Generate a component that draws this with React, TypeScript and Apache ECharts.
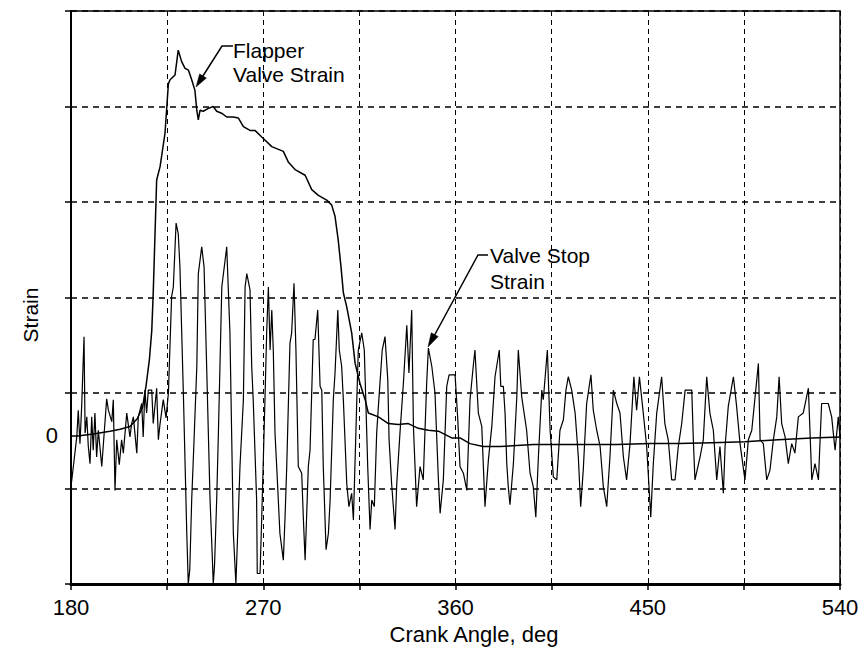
import React, { useEffect, useRef } from "react";
import * as echarts from "echarts";

// Crank angle (deg), strain (grid units; zero line at 0)
const flapperStrain: [number, number][] = [
  [180, 0.0], [183, 0.0], [190.4, 0.02], [198.3, 0.05], [203, 0.07], [207.6, 0.1],
  [211, 0.18], [213.5, 0.3], [215.1, 0.52], [216.7, 0.8], [217.8, 1.1], [218.5, 1.5],
  [220.1, 2.68], [221.7, 2.82], [224, 3.17], [225.6, 3.69], [226.4, 3.73], [228.7, 3.78],
  [230.2, 4.04], [231.8, 3.92], [233.4, 3.85], [235, 3.83], [236.5, 3.73], [238, 3.62],
  [238.9, 3.41], [239.6, 3.31], [240.4, 3.41], [241.9, 3.4], [244.3, 3.43], [246.6, 3.45],
  [248.2, 3.4], [250.5, 3.38], [252.9, 3.34], [256, 3.34], [258.3, 3.33], [260.7, 3.24],
  [263.8, 3.2], [266.1, 3.2], [269.3, 3.13], [274, 3.03], [279.4, 2.98], [281.7, 2.87],
  [284.9, 2.79], [289.6, 2.73], [292.7, 2.58], [295.8, 2.52], [299.7, 2.47], [302, 2.42],
  [303.6, 2.3], [305.1, 2.05], [306.4, 1.77], [307.5, 1.5], [309.1, 1.35], [311.4, 1.08],
  [313, 0.76], [315.3, 0.55], [317.7, 0.38], [319.2, 0.24], [323.9, 0.2], [328.6, 0.13],
  [333.2, 0.12], [337.9, 0.13], [342.6, 0.08], [347.3, 0.06], [352, 0.05], [358.2, -0.02],
  [362.1, -0.02], [366.8, -0.08], [373, -0.11], [380.9, -0.11], [388.7, -0.1], [396.5, -0.09],
  [404.3, -0.09], [419.9, -0.09], [435.6, -0.09], [451.2, -0.08], [464.3, -0.08], [479.9, -0.07],
  [495.5, -0.06], [511.1, -0.04], [526.8, -0.02], [540, -0.01],
];

const valveStopStrain: [number, number][] = [
  [180, -0.53], [181.1, -0.32], [182.7, -0.01], [183.4, 0.27], [184.2, -0.08], [185, 0.31],
  [186.1, 1.04], [186.6, 0.03], [187.4, 0.2], [188.1, -0.11], [188.9, -0.29], [189.7, 0.2],
  [190.4, -0.15], [191.2, 0.24], [192, -0.22], [192.8, 0.06], [194.4, -0.32], [195.4, -0.01],
  [196.7, 0.39], [197.5, 0.27], [199.1, 0.15], [199.8, 0.38], [200.6, -0.57], [201.4, -0.04],
  [202.6, -0.3], [203.7, -0.04], [204.5, -0.18], [206.1, 0.24], [207.6, -0.01], [208.4, 0.13],
  [209.2, 0.2], [210.8, -0.18], [211.5, 0.2], [213.1, 0.34], [213.8, -0.01], [214.6, 0.48],
  [215.4, 0.24], [216.2, 0.48], [217.8, 0.48], [218.5, 0.13], [220.1, 0.5], [220.9, -0.04],
  [221.7, 0.13], [223.2, 0.38], [224.5, 0.19], [225.6, 0.45], [227.1, 1.46], [227.9, 1.56],
  [229.2, 2.23], [230.2, 2.12], [231, 1.77], [232.6, 0.45], [234.2, -1.02], [234.9, -1.55],
  [235.6, -1.4], [236.5, -0.67], [237.3, -0.22], [238.9, 0.73], [239.6, 1.7], [241.2, 1.98],
  [242.3, 1.77], [243.5, 0.73], [245.1, -0.67], [246.2, -1.3], [246.6, -1.55], [247.2, -1.35],
  [248.2, -0.67], [249, 0.03], [250.6, 1.56], [252.9, 1.98], [254.4, 1.08], [255.2, 0.03],
  [256, -1.02], [257.2, -1.55], [258.3, -0.85], [259.1, -0.32], [260.7, 0.38], [261.5, 1.56],
  [262.3, 1.7], [263.8, 1.53], [264.6, 0.73], [265.3, 0.38], [266.9, -0.67], [267.2, -1.44],
  [268.5, -1.44], [269.3, -0.85], [270.8, 0.38], [271.6, 1.08], [272.4, 1.56], [273.2, 0.9],
  [274, 1.32], [274.7, 0.9], [275.5, 0.03], [276.3, -0.32], [277.8, -1.02], [279.4, -1.3],
  [280.2, -0.85], [281, -0.32], [282.5, 0.97], [283.3, 1.08], [284.4, 1.6], [285.3, 0.9],
  [286.4, -0.32], [288, -0.39], [288.8, -0.88], [289.6, -1.3], [291.1, -0.32], [291.9, -0.15],
  [293.4, 1.01], [294.2, 1.01], [295.5, 1.32], [296.6, 0.52], [297.4, 0.48], [298.1, -0.32],
  [299.4, -1.19], [300.5, -1.02], [301.3, -0.67], [302.8, 0.38], [303.6, 0.66], [304.9, 1.32],
  [305.6, 0.9], [306.7, 0.73], [307.5, 0.38], [309.1, -0.5], [310.1, -0.74], [311.4, -0.6],
  [312.2, -0.88], [313.8, 0.38], [314.5, 0.9], [316.1, 1.08], [317.3, 0.9], [318, 0.38],
  [318.9, -0.32], [320, -0.98], [320.8, -0.67], [322, -0.74], [323.1, 0.03], [323.9, 0.31],
  [325.7, 0.9], [327, 1.04], [328.3, 0.59], [328.9, -0.04], [330.1, -0.5], [331.7, -0.98],
  [332.5, -0.5], [334, 0.03], [335.6, 0.55], [337.2, 1.16], [338.2, 0.66], [339.5, 1.32],
  [340.3, 0.1], [341.8, -0.74], [343.4, -0.32], [344.9, -0.46], [346.5, 0.55], [347.3, 0.92],
  [348.9, 0.73], [350.4, 0.45], [352, -0.46], [352.8, -0.81], [354.3, -0.46], [355.9, 0.52],
  [357, 0.64], [359.8, 0.64], [361, 0.2], [362.1, -0.32], [363.7, -0.39], [365.3, -0.57],
  [366.8, 0.38], [368.3, 0.73], [369.1, 0.9], [370.7, 0.24], [372.3, 0.1], [373.8, -0.74],
  [375.4, -0.25], [377, 0.1], [378.5, 0.62], [380.5, 0.9], [381.2, 0.52], [382.4, 0.52],
  [383.2, 0.24], [384, -0.29], [384.7, -0.53], [385.5, -0.72], [387.1, -0.29], [388.7, 0.41],
  [389.4, 0.9], [391, 0.41], [393.3, 0.06], [394.9, -0.39], [396.4, -0.53], [397.6, -0.85],
  [398.8, -0.22], [400.4, 0.48], [401.1, 0.38], [403, 0.9], [404.3, 0.06], [405.8, -0.43],
  [407.4, -0.46], [408.9, 0.06], [410.5, 0.17], [411.7, 0.48], [412.8, 0.62], [414.4, 0.48],
  [416, 0.24], [417.5, -0.22], [418.6, -0.74], [419.8, -0.36], [421.4, 0.34], [423.4, 0.64],
  [424.5, 0.27], [426.1, 0.06], [427.7, -0.11], [429.2, -0.53], [430.8, -0.74], [432.3, -0.22],
  [433.9, 0.48], [435.5, 0.34], [437, 0.24], [438.6, -0.22], [440.1, -0.46], [441.7, -0.08],
  [443.5, 0.62], [444.8, 0.27], [446.1, 0.62], [447.9, 0.24], [449.5, -0.11], [451.4, -0.85],
  [452.6, -0.29], [454.2, 0.24], [456.5, 0.62], [458, 0.13], [459.6, -0.04], [461.2, -0.46],
  [462.8, -0.46], [464.3, -0.11], [465.9, 0.13], [467.5, 0.48], [470.6, 0.48], [471.4, -0.08],
  [472.1, -0.46], [474.5, -0.22], [476, -0.04], [477.6, 0.62], [479.1, 0.24], [480.7, 0.06],
  [482.3, -0.46], [483.8, -0.11], [485.4, -0.6], [486.2, -0.11], [487.7, 0.31], [490.1, 0.62],
  [491.6, 0.31], [493.2, -0.08], [495.5, -0.46], [497.1, -0.04], [498.7, 0.06], [501.8, 0.76],
  [502.6, -0.04], [504.1, -0.08], [505.7, -0.46], [507.2, -0.36], [508.8, -0.04], [510.4, 0.2],
  [511.5, 0.62], [512.7, 0.13], [514.3, -0.01], [515.8, -0.29], [517.4, -0.08], [518.9, -0.18],
  [520.5, 0.2], [522.8, 0.24], [525.2, 0.5], [526.8, -0.46], [528.3, -0.29], [529.9, -0.46],
  [531.4, 0.34], [534.5, 0.34], [536.1, 0.2], [537.7, -0.15], [539.2, 0.2], [540, -0.01],
];

const xTickLabels = [180, 270, 360, 450, 540];
const yTickLabels = [0];

const FONT = "'Liberation Sans', Arial, Helvetica, sans-serif";

export default function App() {
  const ref = useRef<HTMLDivElement>(null);

  useEffect(() => {
    if (!ref.current) return;
    const chart = echarts.init(ref.current, null, { renderer: "svg" });
    chart.setOption({
      animation: false,
      backgroundColor: "#ffffff",
      grid: {
        left: 71,
        right: 26,
        top: 11,
        bottom: 65,
        show: true,
        borderColor: "#000",
        borderWidth: 1.5,
      },
      xAxis: [
        {
          type: "value",
          min: 180,
          max: 540,
          interval: 45,
          axisLine: { show: true, onZero: false, lineStyle: { color: "#000", width: 3 } },
          axisTick: { show: true, length: 6, lineStyle: { color: "#000", width: 1.5 } },
          axisLabel: {
            formatter: (v: number) => (xTickLabels.includes(v) ? String(v) : ""),
            fontSize: 22,
            color: "#000",
            margin: 12,
            fontFamily: FONT,
          },
          splitLine: { show: true, lineStyle: { type: [5, 4], color: "#000", width: 1 } },
        },
      ],
      yAxis: [
        {
          type: "value",
          min: -1.55,
          max: 4.45,
          interval: 1,
          axisLine: { show: true, onZero: false, lineStyle: { color: "#000", width: 2 } },
          axisTick: { show: true, length: 6, lineStyle: { color: "#000", width: 1.5 } },
          axisLabel: { show: false },
          splitLine: { show: true, lineStyle: { type: [6, 5], color: "#000", width: 1.6 } },
        },
        {
          type: "value",
          min: -1.55,
          max: 4.45,
          interval: 1.55,
          position: "left",
          axisLine: { show: false },
          axisTick: { show: false },
          splitLine: { show: false },
          axisLabel: {
            formatter: (v: number) =>
              yTickLabels.some((t) => Math.abs(v - t) < 1e-6) ? "0" : "",
            fontSize: 22,
            color: "#000",
            margin: 13,
            fontFamily: FONT,
          },
        },
      ],
      series: [
        {
          name: "Flapper Valve Strain",
          type: "line",
          data: flapperStrain,
          symbol: "none",
          showSymbol: false,
          lineStyle: { color: "#000", width: 1.5 },
          z: 3,
        },
        {
          name: "Valve Stop Strain",
          type: "line",
          data: valveStopStrain,
          symbol: "none",
          showSymbol: false,
          lineStyle: { color: "#000", width: 1.2 },
          z: 2,
        },
      ],
      graphic: [
        {
          type: "text",
          x: 30,
          y: 315,
          rotation: Math.PI / 2,
          style: {
            text: "Strain",
            fontSize: 21,
            fontFamily: FONT,
            fill: "#000",
            textAlign: "center",
            textVerticalAlign: "middle",
          },
        },
        {
          type: "text",
          x: 474,
          y: 634,
          style: {
            text: "Crank Angle, deg",
            fontSize: 22,
            fontFamily: FONT,
            fill: "#000",
            textAlign: "center",
            textVerticalAlign: "middle",
          },
        },
        {
          type: "text",
          x: 233,
          y: 38,
          style: {
            text: "Flapper\nValve Strain",
            fontSize: 21,
            lineHeight: 24,
            fontFamily: FONT,
            fill: "#000",
            textAlign: "left",
            textVerticalAlign: "top",
          },
        },
        {
          type: "polyline",
          shape: { points: [[233, 46], [222, 46], [201, 79]] },
          style: { stroke: "#000", lineWidth: 1.5, fill: null },
        },
        {
          type: "polygon",
          shape: { points: [[196, 87], [206.4, 78.1], [199.6, 73.9]] },
          style: { fill: "#000", stroke: "#000", lineWidth: 0.5 },
        },
        {
          type: "text",
          x: 490,
          y: 242,
          style: {
            text: "Valve Stop\nStrain",
            fontSize: 21,
            lineHeight: 26,
            fontFamily: FONT,
            fill: "#000",
            textAlign: "left",
            textVerticalAlign: "top",
          },
        },
        {
          type: "polyline",
          shape: { points: [[488, 255], [478, 255], [433, 338]] },
          style: { stroke: "#000", lineWidth: 1.5, fill: null },
        },
        {
          type: "polygon",
          shape: { points: [[428, 347], [438.2, 336.6], [431.2, 332.8]] },
          style: { fill: "#000", stroke: "#000", lineWidth: 0.5 },
        },
      ],
    });
    return () => chart.dispose();
  }, []);

  return (
    <div
      ref={ref}
      style={{ position: "fixed", left: 0, top: 0, width: 866, height: 649, background: "#fff" }}
    />
  );
}
